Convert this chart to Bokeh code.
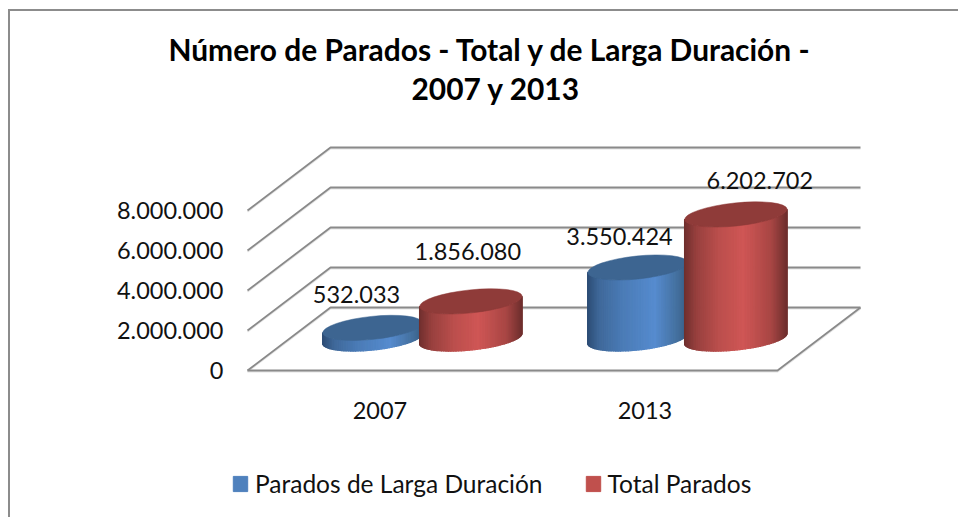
import numpy as np
from bokeh.plotting import figure
from bokeh.models import (FixedTicker, Legend, LegendItem, LinearAxis, Range1d, Title)
from bokeh.core.properties import value
from bokeh.embed import file_html
from bokeh.resources import INLINE

# ---- data ----
categories = ["2007", "2013"]
long_term = [532033, 3550424]
total = [1856080, 6202702]
series_names = ["Parados de Larga Duración", "Total Parados"]
y_ticks = [0, 2000000, 4000000, 6000000, 8000000]
y_tick_labels = ["0", "2.000.000", "4.000.000", "6.000.000", "8.000.000"]
title_lines = ["Número de Parados  - Total y de Larga Duración -", "2007 y 2013"]

# ---- layout (pixels) ----
FONT = "Lato"
PX_X = 265.0      # pixels per category
PX_Y = 50000.0    # value units per pixel
DEPTH_X = 83 / PX_X
DEPTH_Y = 63 * PX_Y
BASE_Y = 32 * PX_Y   # cylinder base centre above front floor line
TILT = np.radians(6)
A_B, A_R, B = 50.0, 51.5, 11.5
POS_B, POS_R = 125 / PX_X, 223.3 / PX_X

def fmt(v):
    return f"{v:,}".replace(",", ".")

p = figure(width=948, height=506, frame_width=645, frame_height=395, margin=(9, 0, 0, 8),
           output_backend="svg", toolbar_location=None,
           x_range=Range1d(-22 / PX_X, 623 / PX_X),
           y_range=Range1d(-130 * PX_Y, 265 * PX_Y),
           x_axis_type=None, y_axis_type=None,
           min_border_left=215, min_border_right=88, min_border_top=94, min_border_bottom=17,
           outline_line_color=None, background_fill_color="white", border_fill_color="white",
           styles={"border-left": "2px solid #8c8c8c", "border-top": "2px solid #8c8c8c"})
p.grid.visible = False

# walls and floor
GRID = "#8a8a8a"
xs, ys = [], []
for v in y_ticks:
    xs.append([0, DEPTH_X, 613 / PX_X]); ys.append([v, v + DEPTH_Y, v + DEPTH_Y])
xs.append([0, 530 / PX_X, 530 / PX_X + DEPTH_X]); ys.append([0, 0, DEPTH_Y])
p.multi_line(xs, [[y - 1.3 * PX_Y for y in r] for r in ys], line_color="#e4e4e4", line_width=1.5)
p.multi_line(xs, ys, line_color=GRID, line_width=1.8)


def mix(stops, t):
    ps = [s[0] for s in stops]
    cols = np.array([[int(s[1][i:i + 2], 16) for i in (1, 3, 5)] for s in stops], float)
    c = [np.interp(t, ps, cols[:, k]) for k in range(3)]
    return "#%02x%02x%02x" % tuple(int(round(x)) for x in c)


BLUE = [(0, "#2c4c74"), (.12, "#3f6899"), (.35, "#4a7bb6"), (.68, "#568bcf"), (.9, "#44709f"), (1, "#3a6088")]
RED = [(0, "#6f2f2e"), (.12, "#97403e"), (.35, "#bc4f4d"), (.58, "#cf5655"), (.85, "#a84644"), (1, "#6f2f2e")]


def cylinder(cx, val, a, stops, top_col):
    phi0 = np.arctan2(-B * np.sin(TILT), a * np.cos(TILT))
    phi = np.linspace(phi0 - np.pi, phi0, 60)
    ex = a * np.cos(phi) * np.cos(TILT) - B * np.sin(phi) * np.sin(TILT)
    ey = a * np.cos(phi) * np.sin(TILT) + B * np.sin(phi) * np.cos(TILT)
    lo, hi = ex.min(), ex.max()
    sx, sy, cols = [], [], []
    for i in range(len(phi) - 1):
        x0, x1 = cx + ex[i] / PX_X, cx + ex[i + 1] / PX_X
        y0, y1 = BASE_Y + ey[i] * PX_Y, BASE_Y + ey[i + 1] * PX_Y
        sx.append([x0, x1, x1, x0])
        sy.append([y0, y1, y1 + val, y0 + val])
        cols.append(mix(stops, ((ex[i] + ex[i + 1]) / 2 - lo) / (hi - lo)))
    p.patches(sx, sy, fill_color=cols, line_color=cols, line_width=1.2, line_join="round")
    p.ellipse([cx], [BASE_Y + val], width=2 * a, height=2 * B, width_units="screen",
              height_units="screen", angle=TILT, fill_color=top_col, line_color=top_col,
              line_width=0.5)


for i in range(len(categories)):
    cylinder(i + POS_B, long_term[i], A_B, BLUE, "#3d6591")
    cylinder(i + POS_R, total[i], A_R, RED, "#8f3b39")

# data labels, manually placed as in the reference
lab_dx = [-16, -3, -18, 24]
lab_dy = [33, 50, 31, 34]
lab_x, lab_y, lab_t = [], [], []
for i in range(len(categories)):
    for j, (vals, pos) in enumerate(((long_term, POS_B), (total, POS_R))):
        k = i * 2 + j
        lab_x.append(i + pos + lab_dx[k] / PX_X)
        lab_y.append(BASE_Y + vals[i] + lab_dy[k] * PX_Y)
        lab_t.append(fmt(vals[i]))
p.text(lab_x, lab_y, text=lab_t, text_font=value(FONT), text_font_size="23.5px", text_color="#111111",
       text_align="center", text_baseline="middle")

# axes
ya = LinearAxis(ticker=FixedTicker(ticks=y_ticks),
                major_label_overrides={v: t for v, t in zip(y_ticks, y_tick_labels)},
                axis_line_color=None, major_tick_line_color=None, minor_tick_line_color=None,
                major_label_standoff=-4, major_label_text_font=FONT, major_label_text_font_size="23.5px",
                major_label_text_color="#111111")
p.add_layout(ya, "left")
xt = [i + 0.5 for i in range(len(categories))]
xa = LinearAxis(ticker=FixedTicker(ticks=xt),
                major_label_overrides={v: t for v, t in zip(xt, categories)},
                axis_line_color=None, major_tick_line_color=None, minor_tick_line_color=None,
                major_label_standoff=-105, major_label_text_font=FONT, major_label_text_font_size="23.5px",
                major_label_text_color="#111111")
p.add_layout(xa, "below")

# legend (swatches only: their one row lies outside the ranges)
nan = float("nan")
r_b = p.quad(left=[nan], right=[nan], top=[nan], bottom=[nan], fill_color="#4f81bd", line_color="#4f81bd")
r_r = p.quad(left=[nan], right=[nan], top=[nan], bottom=[nan], fill_color="#c0504d", line_color="#c0504d")
legend = Legend(items=[LegendItem(label=series_names[0], renderers=[r_b]),
                       LegendItem(label=series_names[1], renderers=[r_r])],
                orientation="horizontal", location=(6, 2), margin=0, padding=0, spacing=41,
                glyph_width=18, glyph_height=19, label_standoff=6, border_line_color=None,
                background_fill_color=None, background_fill_alpha=0,
                label_text_font=FONT, label_text_font_size="24.5px", label_text_color="#111111")
p.add_layout(legend, "center")

# title
t2 = Title(text=title_lines[1], align="left", offset=186, standoff=0, text_font=FONT,
           text_font_size="29.9px", text_font_style="bold", text_color="#000000")
t1 = Title(text=title_lines[0], align="left", offset=-57, standoff=2, text_font=FONT,
           text_font_size="29.9px", text_font_style="bold", text_color="#000000")
p.add_layout(t2, "above")
p.add_layout(t1, "above")

open("out.html", "w").write(file_html(p, INLINE))
